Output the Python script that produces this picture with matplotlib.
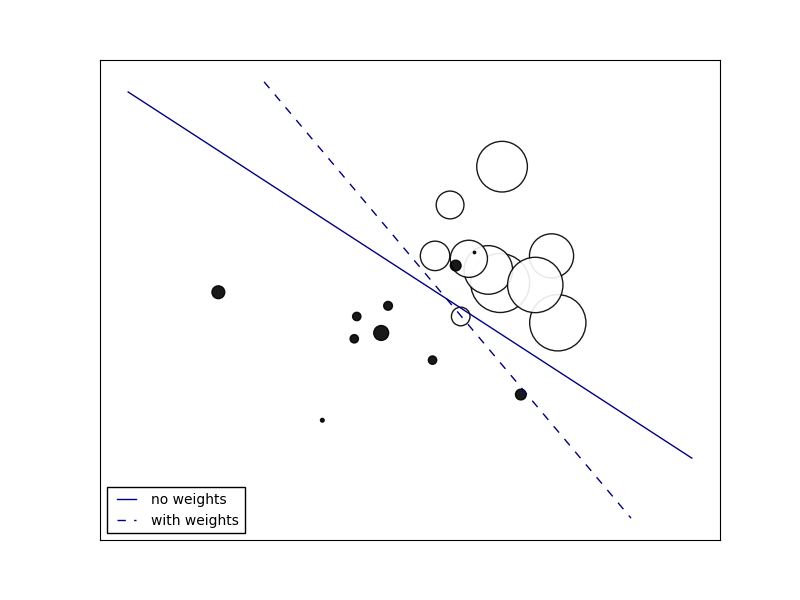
import numpy as np
import matplotlib
matplotlib.use("Agg")
import matplotlib.pyplot as plt

# class +1 (white, heavy weights) -- listed in drawing order
pos_x = [1.97, 1.14, 0.90, 1.94, 1.75, 1.44, 2.86, 2.76, 2.50, 1.31]
pos_y = [3.25, 2.46, 1.41, 0.85, 1.12, 1.35, 0.03, 1.41, 0.81, 0.16]
pos_s = [1330, 400, 450, 1800, 1225, 715, 1640, 1010, 1590, 180]

# class -1 (black, light weights)
neg_x = [-2.56, 1.23, 1.53, 0.15, -0.35, 0.04, -0.39, 0.86, 2.27, -0.90]
neg_y = [0.66, 1.21, 1.48, 0.38, 0.16, -0.18, -0.30, -0.74, -1.45, -1.98]
neg_s = [85, 60, 3, 40, 36, 115, 36, 36, 60, 7]

# decision boundaries y = intercept + slope * x
line_labels = ["no weights", "with weights"]
line_intercepts = [1.434, 2.189]
line_slopes = [-0.839, -1.536]
line_styles = ["solid", "dashed"]

grid_lo, grid_hi = -4.0, 5.0

fig = plt.figure(figsize=(8, 6), dpi=100)
ax = fig.add_axes([0.125, 0.1, 0.775, 0.8])

X = np.r_[np.c_[pos_x, pos_y], np.c_[neg_x, neg_y]]
y = np.r_[np.ones(len(pos_x)), -np.ones(len(neg_x))]
s = np.r_[pos_s, neg_s]
ax.scatter(X[:, 0], X[:, 1], c=y, s=s, alpha=0.9, cmap=plt.cm.bone,
           edgecolor="black", linewidths=1)

handles = []
for a, b, ls in zip(line_intercepts, line_slopes, line_styles):
    x_lo = max(grid_lo, (grid_hi - a) / b)
    x_hi = min(grid_hi, (grid_lo - a) / b)
    xs = np.linspace(x_lo, x_hi, 200)
    kw = dict(color="#000080", lw=1)
    if ls == "dashed":
        kw["dashes"] = (6, 6)
    h, = ax.plot(xs, a + b * xs, **kw)
    handles.append(h)

ax.set_xlim(-4.45, 5.45)
ax.set_ylim(-4.45, 5.45)
ax.set_xticks([])
ax.set_yticks([])

leg = ax.legend(handles, line_labels, loc="lower left", fontsize=10,
                numpoints=2, handlelength=2.0, handletextpad=0.8,
                fancybox=False, framealpha=1, edgecolor="black")
leg.get_frame().set_linewidth(1)

fig.savefig("out.png", dpi=100)
